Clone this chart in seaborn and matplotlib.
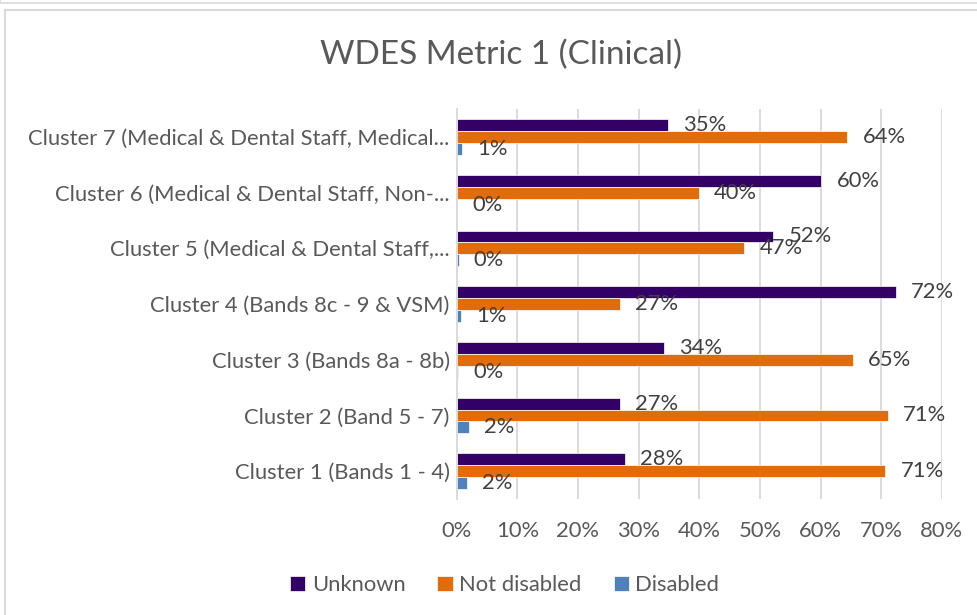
import seaborn as sns
import matplotlib.pyplot as plt
import pandas as pd
from matplotlib.patches import Rectangle

# values (fractions), top category first
clusters = [
    "Cluster 7 (Medical & Dental Staff, Medical...",
    "Cluster 6 (Medical & Dental Staff, Non-...",
    "Cluster 5 (Medical & Dental Staff,...",
    "Cluster 4 (Bands 8c - 9 & VSM)",
    "Cluster 3 (Bands 8a - 8b)",
    "Cluster 2 (Band 5 - 7)",
    "Cluster 1 (Bands 1 - 4)",
]
unknown = [0.348, 0.601, 0.522, 0.724, 0.342, 0.269, 0.277]
not_disabled = [0.644, 0.399, 0.474, 0.269, 0.653, 0.711, 0.707]
disabled = [0.008, 0.0, 0.003, 0.007, 0.002, 0.020, 0.017]
series = ["Unknown", "Not disabled", "Disabled"]
colors = ["#330066", "#E36C0A", "#4F81BD"]
xticks = [0, 0.1, 0.2, 0.3, 0.4, 0.5, 0.6, 0.7, 0.8]

df = pd.DataFrame({"cluster": clusters * 3,
                   "group": [s for s in series for _ in clusters],
                   "value": unknown + not_disabled + disabled})

sns.set_theme(style="white")
plt.rcParams['font.family'] = ['Lato', 'DejaVu Sans']
grey = "#595959"
fs = 15.8

fig = plt.figure(figsize=(9.78, 6.15), dpi=100)
ax = fig.add_axes([0.467, 0.1886, 0.496, 0.634])

sns.barplot(data=df, y="cluster", x="value", hue="group", order=clusters,
            hue_order=series, palette=dict(zip(series, colors)), orient="h",
            width=0.64, saturation=1, edgecolor="white", linewidth=0.5,
            ax=ax, legend=True)

for c in ax.containers:
    ax.bar_label(c, labels=[f"{v * 100:.0f}%" for v in c.datavalues],
                 padding=11, fontsize=fs, color="#404040")

ax.set_xlim(0, 0.8)
ax.set_ylim(6.5, -0.5)
ax.set_xticks(xticks)
ax.set_xticklabels([f"{t * 100:.0f}%" for t in xticks])
ax.set_xlabel("")
ax.set_ylabel("")
ax.tick_params(axis="both", labelsize=fs, colors=grey, length=0)
ax.tick_params(axis="x", pad=16)
ax.tick_params(axis="y", pad=5)
ax.grid(axis="x", color="#d9d9d9", linewidth=1.3)
ax.set_axisbelow(True)
for s in ["top", "right", "bottom"]:
    ax.spines[s].set_visible(False)
ax.spines["left"].set_color("#d9d9d9")
ax.spines["left"].set_linewidth(1.3)

ax.legend(loc="center", bbox_to_anchor=(0.516, 0.048), bbox_transform=fig.transFigure,
          ncol=3, frameon=False, fontsize=fs, labelcolor=grey, handlelength=0.7,
          handleheight=0.7, handletextpad=0.3, columnspacing=1.45)

fig.text(0.512, 0.91, "WDES Metric 1 (Clinical)", ha="center", va="center",
         fontsize=24, color=grey)

# chart frame
fig.patches.append(Rectangle((5 / 978, -0.05), 1.0, 1 - 10 / 615 + 0.05,
                             transform=fig.transFigure, fill=False,
                             edgecolor="#d9d9d9", linewidth=1.5))
fig.patches.append(Rectangle((0, 1 - 3 / 615), 1.0, 0.01, transform=fig.transFigure,
                             fill=False, edgecolor="#d9d9d9", linewidth=1.2))

fig.savefig("out.png", dpi=100)
